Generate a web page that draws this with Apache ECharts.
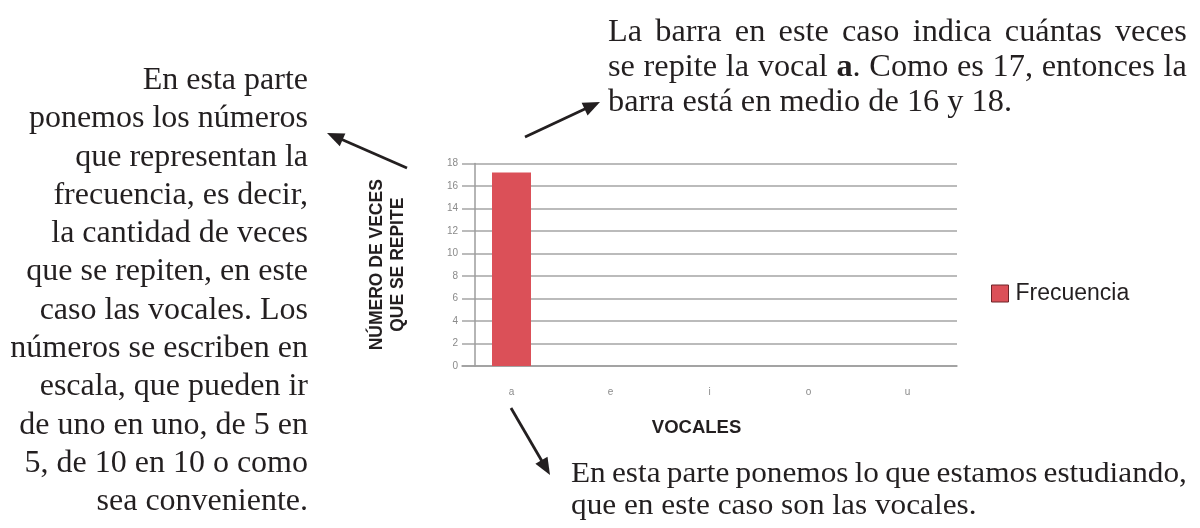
<!DOCTYPE html>
<html lang="es">
<head>
    <meta charset="UTF-8">
    <title>vocales</title>
    <script src="https://cdn.jsdelivr.net/npm/echarts@6.0.0/dist/echarts.min.js"></script>
    <style>
        body { margin: 0; background: #fff; }
        #wrap { position: relative; width: 1200px; height: 528px; overflow: hidden; }
        #main { position: absolute; left: 0; top: 0; width: 1200px; height: 528px; }
        .txt { position: absolute; font-family: "Liberation Serif", "DejaVu Serif", serif; font-size: 30.5px; line-height: 35px; color: #231f20; white-space: nowrap; }
        .just { transform: scaleX(1.06); transform-origin: left top; }
        .just div { text-align: justify; text-align-last: justify; }
        .just div.last { text-align-last: left; }
        #izq { text-align: right; font-size: 32px; line-height: 38.3px; }
    </style>
</head>
<body>
<div id="wrap">
    <div id="main"></div>
    <!-- textos explicativos -->
    <div id="izq" class="txt" style="left:0; top:59px; width:308px;">
        En esta parte<br>ponemos los números<br>que representan la<br>frecuencia, es decir,<br>la cantidad de veces<br>que se repiten, en este<br>caso las vocales. Los<br>números se escriben en<br>escala, que pueden ir<br>de uno en uno, de 5 en<br>5, de 10 en 10 o como<br>sea conveniente.
    </div>
    <div class="txt just" style="left:608px; top:14px; width:546px;">
        <div>La barra en este caso indica cuántas veces</div>
        <div>se repite la vocal <b>a</b>. Como es 17, entonces la</div>
        <div class="last">barra está en medio de 16 y 18.</div>
    </div>
    <div class="txt just" style="left:571px; top:456px; width:581px; font-size:29.5px; line-height:32px;">
        <div style="word-spacing:-3px;">En esta parte ponemos lo que estamos estudiando,</div>
        <div class="last">que en este caso son las vocales.</div>
    </div>
</div>
<script>
    // datos
    var vocales = ['a', 'e', 'i', 'o', 'u'];
    var frecuencia = [17.2, null, null, null, null];
    var ejeY = { min: 0, max: 18, interval: 2 };

    // flechas de las notas: [x cola, y cola, x punta, y punta]
    var flechas = [
        [407, 168, 327, 133],
        [525, 137, 600, 102],
        [511, 408, 550, 475]
    ];

    function flecha(f) {
        var dx = f[2] - f[0], dy = f[3] - f[1];
        var len = Math.sqrt(dx * dx + dy * dy);
        var ux = dx / len, uy = dy / len;
        var bx = f[2] - ux * 17, by = f[3] - uy * 17;
        return [
            {
                type: 'line',
                shape: { x1: f[0], y1: f[1], x2: bx + ux * 2, y2: by + uy * 2 },
                style: { stroke: '#231f20', lineWidth: 2.8 }
            },
            {
                type: 'polygon',
                shape: { points: [[f[2], f[3]], [bx - uy * 7, by + ux * 7], [bx + uy * 7, by - ux * 7]] },
                style: { fill: '#231f20' }
            }
        ];
    }

    var graficos = [];
    for (var i = 0; i < flechas.length; i++) {
        graficos = graficos.concat(flecha(flechas[i]));
    }

    var chart = echarts.init(document.getElementById('main'));
    var option = {
        animation: false,
        textStyle: { fontFamily: 'Liberation Sans' },
        grid: { left: 462, right: 243, top: 163.5, bottom: 162 },
        legend: {
            data: ['Frecuencia'],
            left: 986,
            top: 277,
            icon: 'rect',
            itemWidth: 17,
            itemHeight: 17,
            itemStyle: { borderColor: '#6e2428', borderWidth: 1 },
            textStyle: { fontSize: 23, color: '#231f20', fontFamily: 'Liberation Sans', padding: [0, 0, 0, 2] }
        },
        xAxis: {
            type: 'category',
            data: vocales,
            name: 'VOCALES',
            nameLocation: 'middle',
            nameGap: 52,
            nameTextStyle: { fontSize: 18.5, fontWeight: 'bold', color: '#231f20', padding: [0, 26, 0, 0] },
            axisLine: { lineStyle: { color: '#9c9c9c', width: 1.5 } },
            axisTick: { length: 6, lineStyle: { color: '#a8a8a8' } },
            axisLabel: { color: '#8a8a8a', fontSize: 10, margin: 21 }
        },
        yAxis: {
            type: 'value',
            min: ejeY.min,
            max: ejeY.max,
            interval: ejeY.interval,
            offset: -13,
            name: 'NÚMERO DE VECES\nQUE SE REPITE',
            nameLocation: 'middle',
            nameRotate: 90,
            nameGap: 66,
            nameTextStyle: { fontSize: 17.5, fontWeight: 'bold', color: '#231f20', lineHeight: 21 },
            axisLine: { show: true, lineStyle: { color: '#9c9c9c', width: 1.5 } },
            axisTick: { show: false },
            axisLabel: { color: '#8a8a8a', fontSize: 10, margin: 17 },
            splitLine: { lineStyle: { color: '#bbbbbb', width: 2 } }
        },
        series: [
            {
                name: 'Frecuencia',
                type: 'bar',
                data: frecuencia,
                barWidth: 39,
                itemStyle: { color: '#db5058' }
            }
        ],
        graphic: graficos
    };
    chart.setOption(option);
</script>
</body>
</html>
